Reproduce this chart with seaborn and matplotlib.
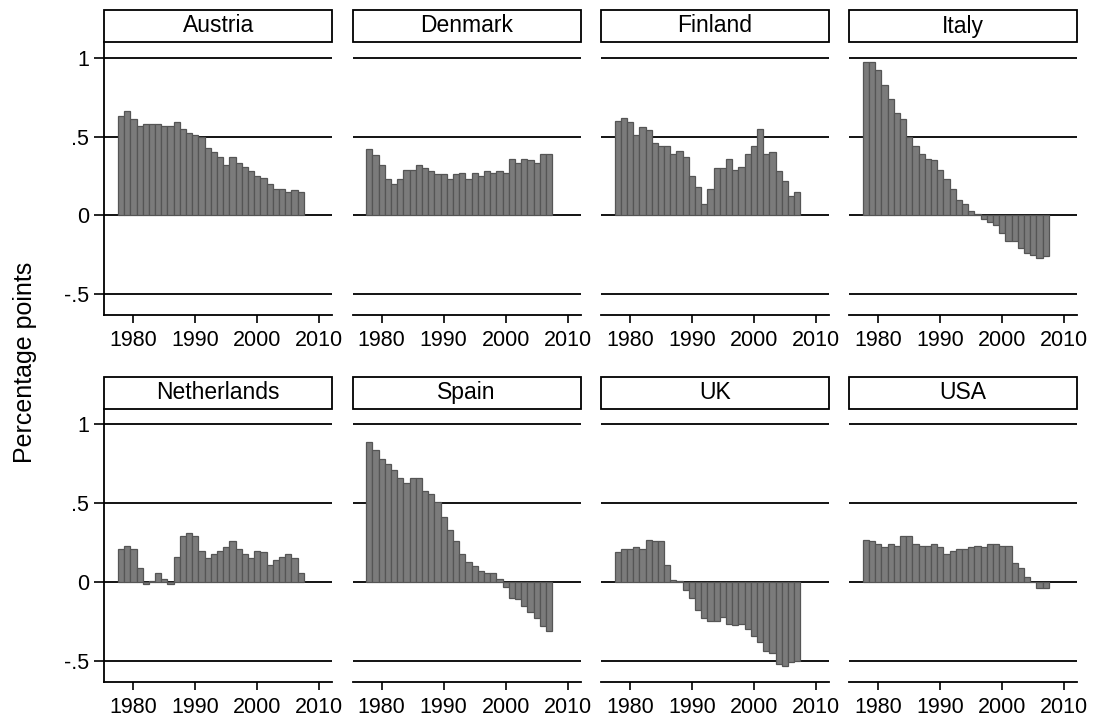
import pandas as pd
import seaborn as sns
import matplotlib.pyplot as plt
from matplotlib.patches import Rectangle

years = list(range(1978, 2008))
countries = ["Austria", "Denmark", "Finland", "Italy",
             "Netherlands", "Spain", "UK", "USA"]

austria = [0.63, 0.66, 0.61, 0.57, 0.58, 0.58, 0.58, 0.57, 0.57, 0.59,
           0.55, 0.52, 0.51, 0.50, 0.43, 0.40, 0.37, 0.32, 0.37, 0.33,
           0.31, 0.28, 0.25, 0.24, 0.20, 0.17, 0.17, 0.15, 0.16, 0.15]
denmark = [0.42, 0.38, 0.32, 0.23, 0.20, 0.23, 0.29, 0.29, 0.32, 0.30,
           0.28, 0.26, 0.26, 0.23, 0.26, 0.27, 0.23, 0.27, 0.25, 0.28,
           0.27, 0.28, 0.27, 0.36, 0.33, 0.36, 0.35, 0.33, 0.39, 0.39]
finland = [0.60, 0.62, 0.59, 0.51, 0.56, 0.54, 0.46, 0.44, 0.44, 0.39,
           0.41, 0.37, 0.25, 0.18, 0.07, 0.17, 0.30, 0.30, 0.36, 0.29,
           0.31, 0.39, 0.44, 0.55, 0.39, 0.40, 0.28, 0.22, 0.12, 0.15]
italy = [0.97, 0.97, 0.92, 0.83, 0.74, 0.65, 0.61, 0.50, 0.44, 0.39,
         0.36, 0.35, 0.29, 0.23, 0.17, 0.10, 0.07, 0.03, 0.01, -0.02,
         -0.04, -0.06, -0.11, -0.16, -0.16, -0.21, -0.24, -0.25, -0.27, -0.26]
netherlands = [0.21, 0.23, 0.21, 0.09, -0.015, 0.01, 0.055, 0.02, -0.015, 0.16,
               0.29, 0.31, 0.29, 0.20, 0.15, 0.18, 0.20, 0.22, 0.26, 0.21,
               0.18, 0.15, 0.20, 0.19, 0.11, 0.14, 0.16, 0.18, 0.15, 0.055]
spain = [0.89, 0.84, 0.78, 0.75, 0.71, 0.66, 0.63, 0.66, 0.66, 0.58,
         0.56, 0.51, 0.41, 0.33, 0.26, 0.18, 0.13, 0.10, 0.07, 0.06,
         0.06, 0.02, -0.03, -0.10, -0.11, -0.15, -0.19, -0.23, -0.28, -0.31]
uk = [0.19, 0.21, 0.21, 0.22, 0.21, 0.27, 0.26, 0.26, 0.11, 0.015,
      0.008, -0.05, -0.10, -0.18, -0.23, -0.25, -0.25, -0.22, -0.265, -0.275,
      -0.265, -0.30, -0.34, -0.38, -0.44, -0.45, -0.52, -0.53, -0.51, -0.50]
usa = [0.27, 0.26, 0.24, 0.22, 0.24, 0.23, 0.29, 0.29, 0.24, 0.23,
       0.23, 0.24, 0.22, 0.18, 0.20, 0.21, 0.21, 0.22, 0.23, 0.22,
       0.24, 0.24, 0.23, 0.23, 0.12, 0.09, 0.03, 0.0, -0.04, -0.04]

series = [austria, denmark, finland, italy, netherlands, spain, uk, usa]

y_ticks = [-0.5, 0, 0.5, 1]
y_labels = ["-.5", "0", ".5", "1"]
x_ticks = [1980, 1990, 2000, 2010]

frames = []
for c, v in zip(countries, series):
    frames.append(pd.DataFrame({"year": years, "value": v, "country": c}))
df = pd.concat(frames, ignore_index=True)

sns.set_style("ticks")
plt.rcParams["font.family"] = ["Liberation Sans", "DejaVu Sans"]

g = sns.FacetGrid(df, col="country", col_wrap=4, col_order=countries,
                  sharex=True, sharey=True)
g.map(plt.bar, "year", "value", width=1.0, color="#7b7b7b",
      edgecolor="#555555", linewidth=0.9)
g.figure.set_size_inches(10.96, 7.25)
g.set_axis_labels("", "")

W, H = 1096, 725
strip_h = 32 / 273

for i, ax in enumerate(g.axes.flat):
    row, col = divmod(i, 4)
    left = (104.3 + 248.3 * col) / W
    bottom = 1 - 315 / H if row == 0 else 1 - 681.7 / H
    ax.set_position([left, bottom, 228 / W, 273 / H])
    ax.set_title("")
    ax.set_xlim(1975.3, 2012.1)
    ax.set_ylim(-0.632, 1.10)
    ax.set_xticks(x_ticks)
    ax.set_yticks(y_ticks)
    ax.set_yticklabels(y_labels)
    for y in y_ticks:
        ax.axhline(y, color="black", lw=1.3, zorder=0.5)

    for s in ["top", "right"]:
        ax.spines[s].set_visible(False)
    ax.spines["bottom"].set_linewidth(1.3)
    ax.spines["bottom"].set_color("black")
    ax.spines["left"].set_linewidth(1.3)
    ax.spines["left"].set_color("black")
    ax.tick_params(axis="x", labelbottom=True, length=6, width=1.2,
                   pad=5, labelsize=15.5, colors="black")
    if col == 0:
        ax.tick_params(axis="y", length=7, width=1.2, pad=4,
                       labelsize=15.5, colors="black")
    else:
        ax.spines["left"].set_visible(False)
        ax.tick_params(axis="y", left=False, labelleft=False)

    # strip box with country name
    ax.add_patch(Rectangle((0, 1), 1, strip_h, transform=ax.transAxes,
                           facecolor="white", edgecolor="black", lw=1.3,
                           clip_on=False))
    ax.text(0.5, 1 + strip_h / 2, countries[i], transform=ax.transAxes,
            ha="center", va="center", fontsize=16.5, color="black")

g.figure.text(25 / W, 1 - 362 / H, "Percentage points", rotation=90,
              ha="center", va="center", fontsize=18, color="black")

g.figure.savefig("out.png", dpi=100)
